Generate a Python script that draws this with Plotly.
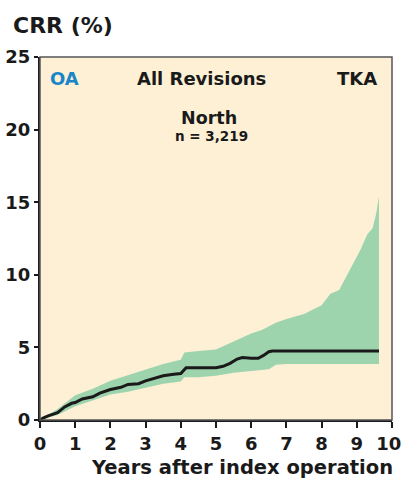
import plotly.graph_objects as go

# Data
line_years = [0, 0.1, 0.25, 0.5, 0.7, 0.9, 1.0, 1.2, 1.5, 1.7, 2.0, 2.3, 2.5, 2.8, 3.0, 3.3, 3.5, 3.8, 4.0, 4.15,
              4.5, 5.0, 5.2, 5.4, 5.6, 5.75, 6.0, 6.2, 6.35, 6.5, 6.6, 7.0, 8.0, 9.0, 9.63]
line_crr = [0, 0.15, 0.3, 0.5, 0.9, 1.15, 1.2, 1.45, 1.6, 1.85, 2.1, 2.25, 2.45, 2.5, 2.7, 2.9, 3.05, 3.15, 3.2, 3.6,
            3.6, 3.6, 3.7, 3.9, 4.2, 4.3, 4.25, 4.25, 4.45, 4.7, 4.75, 4.75, 4.75, 4.75, 4.75]

band_years = [0, 0.25, 0.5, 1.0, 1.5, 2.0, 2.5, 3.0, 3.5, 4.0, 4.1, 4.5, 5.0, 5.5, 6.0, 6.3, 6.5, 6.7, 7.0, 7.5,
              8.0, 8.25, 8.5, 8.8, 9.1, 9.3, 9.45, 9.55, 9.63]
band_upper = [0, 0.4, 0.75, 1.7, 2.15, 2.7, 3.1, 3.45, 3.85, 4.15, 4.65, 4.75, 4.85, 5.4, 5.95, 6.2, 6.45, 6.7, 6.95, 7.3,
              7.9, 8.7, 8.95, 10.3, 11.7, 12.8, 13.2, 14.2, 15.4]
band_lower = [0, 0.15, 0.35, 0.95, 1.35, 1.75, 1.95, 2.25, 2.5, 2.65, 2.95, 2.95, 3.05, 3.25, 3.4, 3.45, 3.5, 3.8, 3.85, 3.85,
              3.85, 3.85, 3.85, 3.85, 3.85, 3.85, 3.85, 3.85, 3.85]

x_ticks = list(range(0, 11))
x_tick_labels = ["0", "1", "2", "3", "4", "5", "6", "7", "8", "9", "10\u00a0"]
y_ticks = [0, 5, 10, 15, 20, 25]

FONT = "DejaVu Sans"
INK = "#1a1a1a"

fig = go.Figure()
fig.add_trace(go.Scatter(x=band_years, y=band_lower, mode="lines", line=dict(width=0, color="#9dd4ae"),
                         hoverinfo="skip", showlegend=False))
fig.add_trace(go.Scatter(x=band_years, y=band_upper, mode="lines", line=dict(width=0, color="#9dd4ae"),
                         fill="tonexty", fillcolor="#9dd4ae", hoverinfo="skip", showlegend=False))
fig.add_trace(go.Scatter(x=line_years, y=line_crr, mode="lines", line=dict(width=3, color=INK),
                         showlegend=False))

fig.add_shape(type="rect", xref="paper", yref="paper", x0=0, x1=1, y0=0, y1=1,
              line=dict(color="#555555", width=1.5), layer="above")

def px2paper(px, py):
    return (px - 40) / 352, (420 - py) / 363

anns = []
def ann(text, px, py, size, color=INK, xanchor="center"):
    x, y = px2paper(px, py)
    anns.append(dict(text=text, x=x, y=y, xref="paper", yref="paper", showarrow=False,
                     xanchor=xanchor, yanchor="middle",
                     font=dict(family=FONT, size=size, color=color, weight="bold")))

ann("OA", 48, 78, 18, color="#1a86c8", xanchor="left")
ann("All Revisions", 201, 78, 18)
ann("TKA", 379, 78, 18, xanchor="right")
ann("North", 209, 118, 17.5)
ann("n = 3,219", 211, 136, 13.5)
ann("CRR (%)", 11, 26, 22, xanchor="left")
ann("Years after index operation", 395, 467, 19.5, xanchor="right")

fig.update_layout(
    width=403, height=478,
    margin=dict(l=40, r=11, t=57, b=58),
    paper_bgcolor="white", plot_bgcolor="#fdf0d5",
    annotations=anns,
    xaxis=dict(range=[0, 10], tickvals=x_ticks, ticktext=x_tick_labels, showgrid=False, zeroline=False,
               automargin=False, ticklabeloverflow="allow",
               showline=True, linecolor=INK, linewidth=2, ticks="outside", ticklen=6, tickwidth=1.5,
               tickcolor=INK, tickfont=dict(family=FONT, size=18, color=INK, weight="bold")),
    yaxis=dict(range=[0, 25], tickvals=y_ticks, showgrid=False, zeroline=False, automargin=False,
               ticklabeloverflow="allow",
               showline=True, linecolor=INK, linewidth=2, ticks="outside", ticklen=4, tickwidth=1.5,
               tickcolor=INK, tickfont=dict(family=FONT, size=18, color=INK, weight="bold")),
)

fig.write_html("out.html", config={"displayModeBar": False},
               post_script="document.body.style.margin='0';document.body.style.overflow='hidden';")
